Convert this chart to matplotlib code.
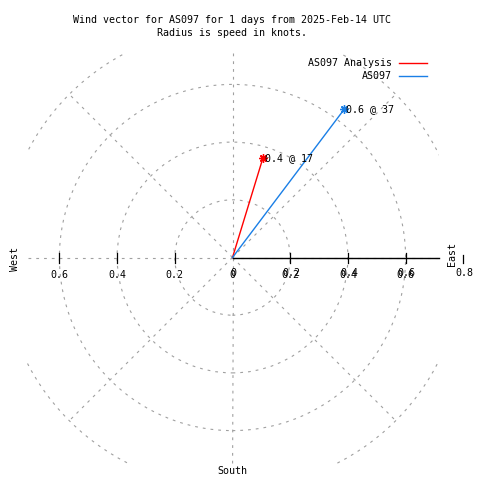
import numpy as np
import matplotlib
matplotlib.use("Agg")
import matplotlib.pyplot as plt
from matplotlib.patches import Circle, Rectangle

plt.rcParams['lines.scale_dashes'] = False
plt.rcParams['font.family'] = ['DejaVu Sans Mono']

# ---- data ----
series_names = ["AS097 Analysis", "AS097"]
series_colors = ["#ff0000", "#1a7fe6"]
speeds = [0.36, 0.645]          # knots
directions = [17, 37]           # degrees, clockwise from north
grid_radii = [0.2, 0.4, 0.6, 0.8]
grid_angles = [0, 45, 90, 135, 180, 225, 270, 315]
x_ticks = [-0.6, -0.4, -0.2, 0, 0.2, 0.4, 0.6]
r_ticks = [0, 0.2, 0.4, 0.6, 0.8]
title1 = "Wind vector for AS097 for 1 days from 2025-Feb-14 UTC"
title2 = "Radius is speed in knots."

# ---- layout (pixels) ----
W = H = 480
S = 288.5          # pixels per knot
cx, cy = 232.5, 257.5
FS = 7.2

fig = plt.figure(figsize=(W / 100, H / 100), dpi=100)
ax = fig.add_axes([0, 0, 1, 1])
ax.set_xlim(-cx / S, (W - cx) / S)
ax.set_ylim(-(H - cy) / S, cy / S)
ax.axis('off')

def py(p):  # pixel y (from top) -> data y
    return (cy - p) / S

def px(p):
    return (p - cx) / S

clip = Rectangle((px(26.7), py(464)), px(439) - px(26.7), py(53.3) - py(464),
                 transform=ax.transData, fill=False, visible=False)
ax.add_patch(clip)

gdash = (0, (2.0, 3.6))
grid_kw = dict(color="#a0a0a0", lw=0.8, linestyle=gdash)
for r in grid_radii:
    c = Circle((0, 0), r, fill=False, edgecolor="#a0a0a0", lw=0.8, linestyle=gdash)
    ax.add_patch(c)
    c.set_clip_path(clip)
for a in grid_angles:
    t = np.deg2rad(a)
    ln, = ax.plot([0, 0.8 * np.cos(t)], [0, 0.8 * np.sin(t)], **grid_kw)
    ln.set_clip_path(clip)

# radial axis (black)
ax.plot([0, px(439)], [0, 0], color="black", lw=1.0)
tk = 5 / S
for t in x_ticks:
    if t != 0:
        ax.plot([t, t], [-tk, tk], color="black", lw=0.9)
ax.plot([0.8, 0.8], [py(263), py(255)], color="black", lw=0.9)

for t in x_ticks:
    ax.text(t, py(275.5), f"{abs(t):g}", ha='center', va='center', fontsize=FS)
for t in r_ticks:
    ax.text(t + 1 / S, py(272.5), f"{t:g}", ha='center', va='center', fontsize=FS)

# compass labels
ax.text(px(15), py(259), "West", rotation=90, ha='center', va='center', fontsize=FS)
ax.text(px(452), py(254), "East", rotation=90, ha='center', va='center', fontsize=FS)
ax.text(px(232), py(471), "South", ha='center', va='center', fontsize=FS)

# wind vectors
handles = []
for name, col, s, d in zip(series_names, series_colors, speeds, directions):
    th = np.deg2rad(d)
    x, y = s * np.sin(th), s * np.cos(th)
    ln, = ax.plot([0, x], [0, y], color=col, lw=1.0, label=name)
    ax.plot([x], [y], marker=(8, 2, 0), color=col, markersize=6, mew=1.0)
    ax.annotate(f"{s:.1f} @ {d:.0f}", (x, y), xytext=(2, 0),
                textcoords='offset pixels', ha='left', va='center', fontsize=FS)
    handles.append(ln)

leg = ax.legend(handles=handles, loc='upper right', markerfirst=False,
                frameon=False, fontsize=FS, handlelength=2.85, handletextpad=0.7,
                labelspacing=0.32, borderpad=0, borderaxespad=0,
                bbox_to_anchor=(427 / W, 1 - 58 / H))
for t in leg.get_texts():
    t.set_ha('right')

fig.text(232 / W, 1 - 20 / H, title1, ha='center', va='center', fontsize=FS)
fig.text(232 / W, 1 - 33.3 / H, title2, ha='center', va='center', fontsize=FS)

fig.savefig("out.png", dpi=100)
